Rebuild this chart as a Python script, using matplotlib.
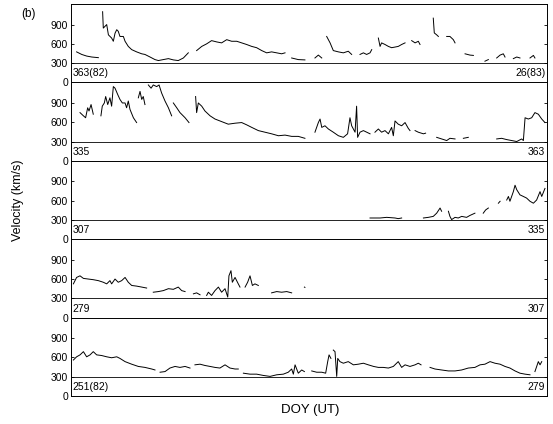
import numpy as np
import matplotlib
matplotlib.use("Agg")
import matplotlib.pyplot as plt

N = None
# Panel 1: DOY 363(82) .. 26(83)
p1_day = [0.33, 0.63, 0.92, 1.22, 1.61, N,
          1.86, 1.90, 2.10, 2.20, 2.39, 2.49, 2.59, 2.69, 2.78, 2.88, 3.08, 3.18, 3.37, 3.57, 3.86,
          4.16, 4.35, 4.65, 4.94, 5.14, 5.43, 5.73, 6.02, 6.31, 6.61, 6.90, N,
          7.39, 7.69, 7.98, 8.27, 8.57, 8.86, 9.16, 9.45, 9.75, 10.04, 10.33, 10.63, 10.92, 11.22,
          11.51, 11.80, 12.10, 12.39, 12.59, N,
          12.98, 13.37, 13.76, N, 14.35, 14.55, 14.75, N,
          15.04, 15.24, 15.43, 15.73, 16.02, 16.31, 16.51, N,
          17.0, 17.2, 17.39, 17.59, 17.69, N,
          18.08, 18.18, 18.27, 18.47, 18.67, 18.86, 19.06, 19.25, 19.45, 19.65, N,
          20.04, 20.24, 20.43, 20.53, N,
          21.31, 21.37, 21.51, 21.61, N, 22.10, 22.29, 22.49, 22.59, N,
          23.18, 23.47, 23.67, N, 24.35, 24.55, N,
          25.04, 25.24, 25.43, 25.53, N, 26.02, 26.22, 26.41, N, 27.0, 27.2, 27.29]
p1_vel = [475, 435, 410, 395, 385, N,
          1100, 845, 900, 740, 690, 640, 765, 820, 795, 715, 715, 640, 560, 510, 475,
          445, 435, 395, 355, 340, 355, 370, 350, 340, 380, 460, N,
          495, 560, 600, 650, 630, 615, 665, 640, 640, 615, 590, 560, 540, 495,
          460, 475, 460, 445, 460, N,
          380, 355, 350, N, 380, 425, 380, N,
          715, 615, 495, 475, 460, 485, 435, N,
          435, 460, 435, 460, 510, N,
          690, 560, 615, 590, 560, 540, 550, 560, 590, 615, N,
          650, 615, 640, 590, N,
          1000, 770, 740, 715, N, 715, 715, 665, 615, N,
          445, 425, 420, N, 330, 355, N,
          380, 425, 445, 395, N, 370, 395, 380, N, 380, 420, 380]

# Panel 2: DOY 335 .. 363
p2_day = [0.53, 0.73, 0.86, 0.98, 1.06, 1.18, 1.31, N,
          1.76, 1.84, 1.96, 2.04, 2.16, 2.29, 2.39, 2.49, 2.59, 2.75, 2.88, 3.02, 3.18, 3.27,
          3.37, 3.47, 3.67, 3.86, N,
          3.96, 4.06, 4.16, 4.25, 4.35, N,
          4.55, 4.71, 4.84, 5.04, 5.18, 5.33, 5.53, 5.73, 5.92, N,
          6.02, 6.22, 6.41, 6.71, 6.94, N,
          7.33, 7.39, 7.49, 7.69, 7.88, 8.18, 8.47, 8.86, 9.25, 9.65, 10.04, 10.33, 10.63,
          11.02, 11.41, 11.80, 12.20, 12.59, 12.98, 13.37, 13.76, N,
          14.35, 14.55, 14.65, 14.75, 14.94, 15.14, 15.43, 15.73, 16.02, 16.27, 16.41, 16.51, 16.71,
          16.80, 16.86, 17.0, 17.2, 17.39, 17.59, N,
          17.88, 18.08, 18.27, 18.47, 18.67, 18.86, 18.96, 19.06, 19.25, 19.45, 19.65, 19.84, 19.94, N,
          20.24, 20.43, 20.73, 20.86, N,
          21.51, 21.80, 22.10, 22.29, 22.59, N, 23.08, 23.37, N,
          25.04, 25.33, 25.63, 25.92, 26.22, 26.51, 26.61, 26.71, 26.90, 27.10, 27.29, 27.49, 27.69, 27.88]
p2_vel = [750, 700, 670, 825, 775, 875, 725, N,
          700, 850, 900, 1000, 875, 980, 850, 1155, 1130, 1030, 955, 900, 900, 825,
          930, 800, 670, 595, N,
          980, 1080, 955, 1000, 875, N,
          1180, 1130, 1180, 1155, 1180, 1055, 930, 825, 700, N,
          900, 825, 750, 670, 595, N,
          1000, 750, 900, 850, 775, 700, 650, 610, 570, 585, 595, 560, 520,
          470, 445, 420, 390, 400, 380, 380, 350, N,
          445, 595, 650, 520, 545, 495, 445, 390, 365, 420, 670, 545, 445,
          850, 365, 445, 470, 445, 420, N,
          445, 495, 445, 470, 420, 520, 390, 620, 570, 545, 595, 505, 470, N,
          470, 445, 420, 430, N,
          365, 340, 315, 350, 340, N, 350, 365, N,
          340, 350, 330, 315, 300, 340, 315, 670, 650, 670, 750, 725, 650, 595]

# Panel 3: DOY 307 .. 335
p3_day = [17.59, 18.18, 18.57, 19.06, 19.25, 19.45, N,
          20.73, 21.02, 21.31, 21.51, 21.71, 21.80, N,
          22.20, 22.29, 22.39, 22.59, 22.78, 22.98, 23.27, 23.47, 23.76, N,
          24.25, 24.39, 24.55, N, 25.14, 25.24, N,
          25.63, 25.73, 25.82, 25.92, 26.02, 26.12, 26.22, 26.41, 26.61, 26.80, 27.0, 27.2, 27.39,
          27.59, 27.69, 27.88]
p3_vel = [330, 330, 340, 330, 320, 330, N,
          330, 340, 355, 405, 485, 435, N,
          435, 355, 305, 340, 330, 355, 340, 370, 405, N,
          405, 455, 485, N, 560, 590, N,
          610, 665, 590, 665, 740, 840, 770, 690, 665, 640, 590, 560, 610,
          740, 665, 790]

# Panel 4: DOY 279 .. 307
p4_day = [0.14, 0.33, 0.53, 0.73, 1.02, 1.31, 1.61, 1.90, 2.10, 2.29, 2.39, 2.59, 2.78, 2.98,
          3.18, 3.37, 3.57, 3.86, 4.16, 4.45, N,
          4.84, 5.14, 5.43, 5.73, 6.02, 6.31, 6.51, 6.71, N,
          7.20, 7.39, 7.59, N,
          7.98, 8.08, 8.27, 8.47, 8.67, 8.86, 9.06, 9.22, 9.29, 9.41, 9.49, 9.65, 9.84, 9.94, N,
          10.24, 10.39, 10.53, 10.67, 10.82, 11.02, N,
          11.80, 12.10, 12.39, 12.69, 12.98, N, 13.73, 13.76]
p4_vel = [525, 625, 650, 610, 600, 590, 575, 550, 525, 575, 525, 600, 550, 575,
          625, 550, 500, 490, 475, 460, N,
          395, 405, 420, 450, 440, 475, 420, 405, N,
          370, 385, 355, N,
          345, 395, 345, 420, 475, 395, 450, 320, 650, 730, 550, 625, 525, 475, N,
          475, 550, 650, 500, 525, 500, N,
          385, 405, 395, 405, 385, N, 475, 470]

# Panel 5: DOY 251(82) .. 279
p5_day = [0.14, 0.33, 0.53, 0.73, 0.92, 1.12, 1.31, 1.51, 1.80, 2.10, 2.39, 2.69, 2.88, 3.18,
          3.57, 3.96, 4.35, 4.75, 4.94, N,
          5.24, 5.53, 5.82, 6.12, 6.41, 6.71, 7.0, N,
          7.29, 7.59, 7.88, 8.18, 8.47, 8.76, 9.06, 9.35, 9.65, 9.84, N,
          10.14, 10.53, 10.92, 11.31, 11.71, 12.10, 12.49, 12.78, 12.98, 13.08, 13.18, 13.37, 13.57, 13.73, N,
          14.16, 14.45, 14.75, 14.98, 15.10, 15.18, 15.29, N,
          15.43, 15.53, 15.63, 15.69, 15.82, 16.02, 16.31, 16.61, 16.90, 17.20, 17.49, 17.80, 18.08,
          18.37, 18.67, 18.96, 19.25, 19.45, 19.65, 19.94, 20.24, 20.43, 20.59, N,
          21.12, 21.41, 21.80, 22.20, 22.59, 22.98, 23.37, 23.76, 24.06, 24.35, 24.65, 24.94, 25.24,
          25.53, 25.82, 26.12, 26.41, 26.71, 27.0, N, 27.29, 27.49, 27.59, 27.69]
p5_vel = [560, 610, 640, 690, 610, 640, 690, 640, 630, 610, 595, 610, 585, 535,
          495, 460, 445, 420, 405, N,
          370, 380, 435, 460, 445, 460, 435, N,
          485, 495, 475, 460, 445, 435, 485, 435, 420, 420, N,
          355, 340, 340, 320, 305, 330, 340, 370, 420, 340, 485, 355, 405, 380, N,
          390, 370, 370, 355, 535, 640, 585, N,
          715, 690, 305, 585, 535, 510, 535, 485, 495, 510, 485, 460, 445,
          445, 435, 460, 535, 445, 485, 460, 485, 510, 485, N,
          445, 420, 405, 390, 390, 405, 435, 445, 485, 495, 535, 510, 495,
          460, 435, 390, 355, 340, 330, N, 380, 535, 485, 535]

# Panel order top -> bottom, with start/end DOY labels
panel_days = [p1_day, p2_day, p3_day, p4_day, p5_day]
panel_vels = [p1_vel, p2_vel, p3_vel, p4_vel, p5_vel]
start_labels = ["363(82)", "335", "307", "279", "251(82)"]
end_labels = ["26(83)", "363", "335", "307", "279"]
yticks = [0, 300, 600, 900]
ref_level = 300

plt.rcParams['font.family'] = ['Liberation Sans', 'DejaVu Sans']
fig = plt.figure(figsize=(5.53, 4.24), dpi=100)

left, right = 71 / 553, 547 / 553
top, bottom = 1 - 4 / 424, 1 - 396 / 424
h = (top - bottom) / 5

for i in range(5):
    ax = fig.add_axes([left, top - (i + 1) * h, right - left, h])
    d = np.array([np.nan if v is None else v for v in panel_days[i]], dtype=float)
    v = np.array([np.nan if x is None else x for x in panel_vels[i]], dtype=float)
    ax.plot(d, v, color='black', lw=0.7)
    ax.axhline(ref_level, color='black', lw=0.6)
    ax.set_xlim(0, 28)
    ax.set_ylim(0, 1220)
    ax.set_yticks(yticks)
    ax.set_yticklabels([str(t) for t in yticks], fontsize=7.5)
    ax.set_xticks([])
    ax.tick_params(axis='y', direction='in', length=2, width=0.6, pad=2, right=True)
    for s in ax.spines.values():
        s.set_linewidth(0.7)
    ax.text(0.1, 140, start_labels[i], fontsize=7.5, ha='left', va='center')
    ax.text(27.9, 140, end_labels[i], fontsize=7.5, ha='right', va='center')

fig.text(18 / 553, 1 - 200 / 424, "Velocity (km/s)", rotation=90, ha='center', va='center', fontsize=9)
fig.text(310 / 553, 1 - 410 / 424, "DOY (UT)", ha='center', va='center', fontsize=9.5)
fig.text(29 / 553, 1 - 14 / 424, "(b)", ha='center', va='center', fontsize=8.5)

fig.savefig("out.png", dpi=100)
